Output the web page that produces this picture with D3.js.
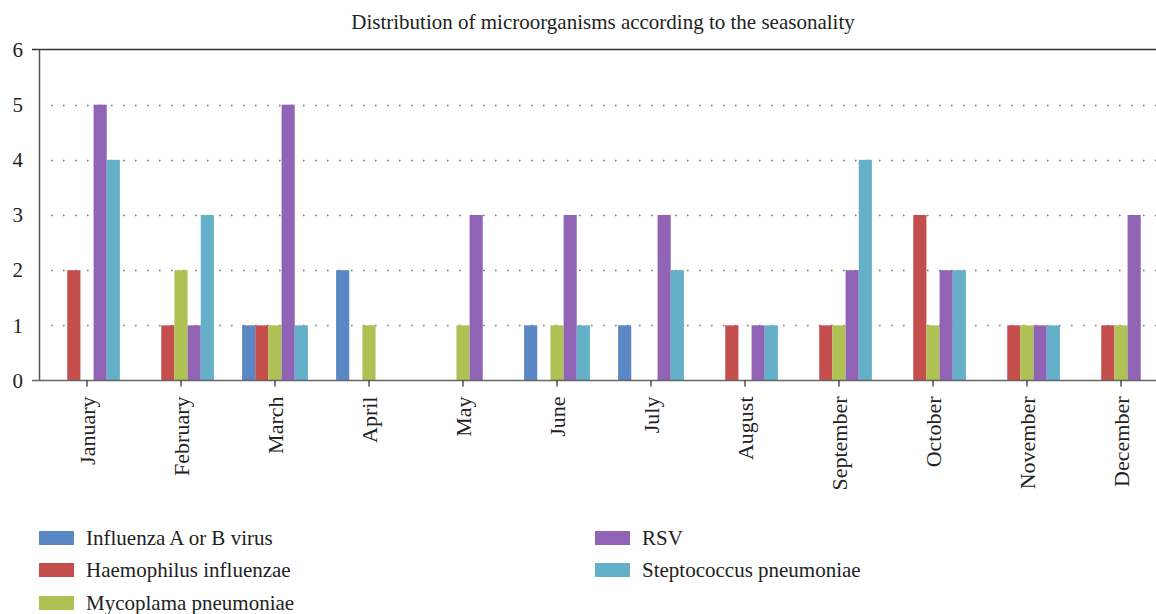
<!DOCTYPE html>
<html><head><meta charset="utf-8">
<script src="https://cdn.jsdelivr.net/npm/d3@7/dist/d3.min.js"></script>
<style>body{margin:0;background:#fff}svg{display:block}text{font-family:"Liberation Serif","DejaVu Serif",serif;fill:#222}</style>
</head><body><svg id="c" width="1156" height="614"></svg>
<script>
const months = ["January","February","March","April","May","June","July","August","September","October","November","December"];
const seriesNames = ["Influenza A or B virus","Haemophilus influenzae","Mycoplama pneumoniae","RSV","Steptococcus pneumoniae"];
const colors = ["#5b87c4","#c44e4b","#aec254","#9163b4","#64b0c9"];
const influenza   = [0,0,1,2,0,1,1,0,0,0,0,0];
const haemophilus = [2,1,1,0,0,0,0,1,1,3,1,1];
const mycoplama   = [0,2,1,1,1,1,0,0,1,1,1,1];
const rsv         = [5,1,5,0,3,3,3,1,2,2,1,3];
const strep       = [4,3,1,0,0,1,2,1,4,2,1,0];
const yTicks = [0,1,2,3,4,5,6];
const seriesValues = [influenza, haemophilus, mycoplama, rsv, strep];

const svg = d3.select("#c");
const mLeft = 40, mTop = 49.5, mBottom = 380.5;
const bandW = 94;
const x = d3.scaleBand().domain(months).range([mLeft, mLeft + bandW*12]).paddingInner(0.3).paddingOuter(0.15);
const xs = d3.scaleBand().domain(d3.range(5)).range([0, x.bandwidth()]);
const y = d3.scaleLinear().domain([0,6]).range([mBottom, mTop]);

// title
svg.append("text").attr("x", 603).attr("y", 29).attr("text-anchor","middle")
  .style("font-size","21px").text("Distribution of microorganisms according to the seasonality");

// grid
const g = svg.append("g");
g.selectAll("line.grid").data(yTicks.filter(d => d > 0 && d < 6)).join("line")
  .attr("x1", 51).attr("x2", 1156)
  .attr("y1", d => Math.round(y(d)) + 0.5).attr("y2", d => Math.round(y(d)) + 0.5)
  .attr("stroke", "#777").attr("stroke-width", 1.6).attr("stroke-dasharray", "1.6,10.4");

// bars
const groups = svg.append("g").selectAll("g").data(months).join("g")
  .attr("transform", d => `translate(${x(d)},0)`);
groups.selectAll("rect").data((m, i) => seriesValues.map((s, k) => ({k, v: s[i]}))).join("rect")
  .attr("x", d => xs(d.k)).attr("width", xs.bandwidth())
  .attr("y", d => y(d.v)).attr("height", d => y(0) - y(d.v))
  .attr("fill", d => colors[d.k]);

// top border at 6
svg.append("line").attr("x1", 32).attr("x2", 1156).attr("y1", y(6)).attr("y2", y(6))
  .attr("stroke", "#333").attr("stroke-width", 1.5);

// y axis
const yAxis = svg.append("g").attr("transform", `translate(${mLeft - 1},0)`)
  .call(d3.axisLeft(y).tickValues(yTicks).tickSize(0).tickPadding(16).tickFormat(d3.format("d")));
yAxis.select(".domain").attr("stroke", "#555").attr("stroke-width", 1.5);
yAxis.selectAll("text").style("font-size", "21px").attr("fill", "#222");

// x axis
const xAxis = svg.append("g").attr("transform", `translate(0,${mBottom})`)
  .call(d3.axisBottom(x).tickSize(6).tickSizeOuter(0));
xAxis.select(".domain").attr("d", `M32,0H1156`).attr("stroke", "#666").attr("stroke-width", 1.5);
xAxis.selectAll(".tick line").attr("stroke", "#333").attr("stroke-width", 1.3);
xAxis.selectAll("text").style("font-size", "22px").attr("fill", "#222")
  .attr("transform", "rotate(-90)").attr("text-anchor", "end")
  .attr("x", -16).attr("y", 0).attr("dy", "0.35em");

// legend
const legPos = [[39,538],[39,570],[39,603],[595,538],[595,570]];
const leg = svg.append("g").selectAll("g").data(seriesNames).join("g")
  .attr("transform", (d, i) => `translate(${legPos[i][0]},${legPos[i][1]})`);
leg.append("rect").attr("x", 0).attr("y", -7).attr("width", 35).attr("height", 14).attr("fill", (d, i) => colors[i]);
leg.append("text").attr("x", 47).attr("y", 0).attr("dy", "0.35em").style("font-size", "21px").text(d => d);
</script></body></html>
